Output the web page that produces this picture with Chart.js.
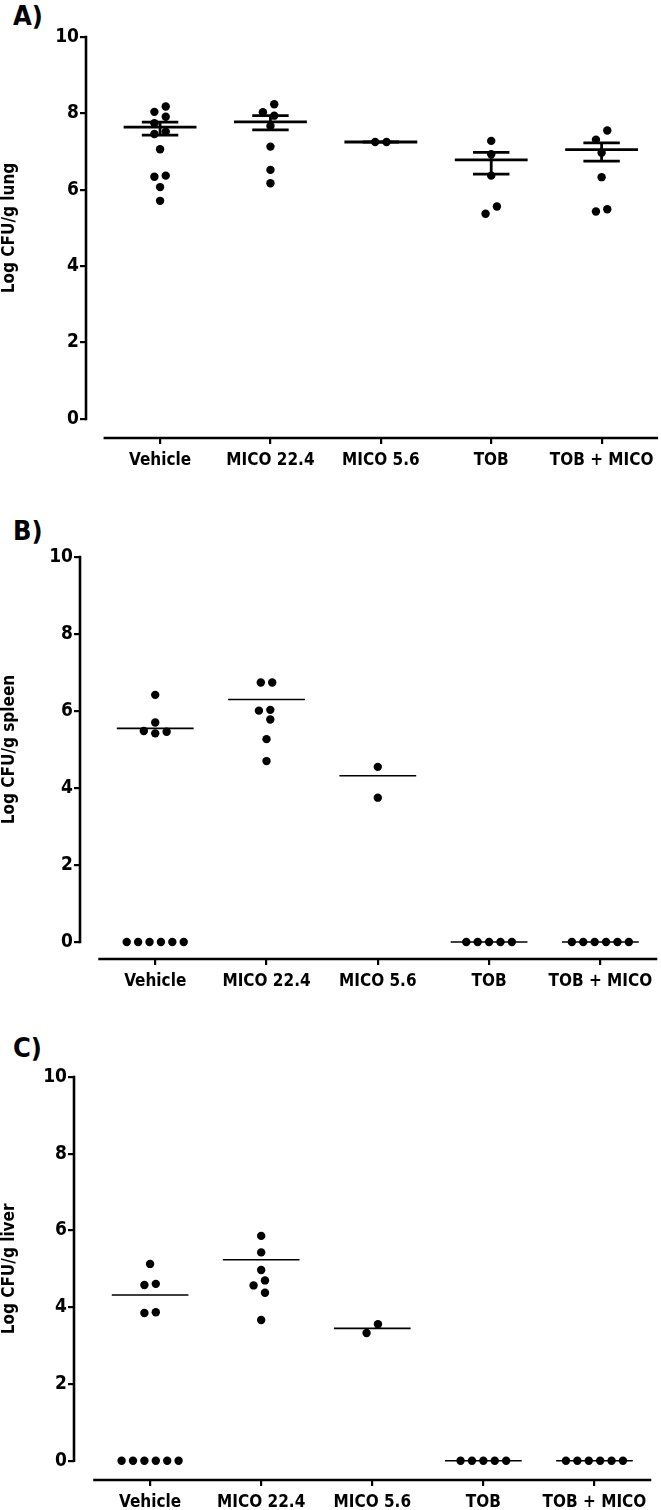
<!DOCTYPE html>
<html>
<head>
<meta charset="utf-8">
<script src="https://cdn.jsdelivr.net/npm/chart.js@4.4.1/dist/chart.umd.min.js"></script>
<style>
  body { margin: 0; background: #fff; }
  #wrap { position: relative; width: 661px; height: 1510px; overflow: hidden; }
  #wrap canvas { position: absolute; left: 0; }
  .letter {
    position: absolute; left: 13px; margin: 0;
    font: bold 27px "DejaVu Sans Condensed", "DejaVu Sans", sans-serif;
    line-height: 27px; color: #000;
  }
</style>
</head>
<body>
<div id="wrap">
  <div class="letter" style="top:2px">A)</div>
  <canvas id="lungChart" width="661" height="500" style="top:0px"></canvas>
  <div class="letter" style="top:517px">B)</div>
  <canvas id="spleenChart" width="661" height="505" style="top:500px"></canvas>
  <div class="letter" style="top:1034px">C)</div>
  <canvas id="liverChart" width="661" height="505" style="top:1005px"></canvas>
</div>
<script>
// categories and axis ticks
const categories = ["Vehicle", "MICO 22.4", "MICO 5.6", "TOB", "TOB + MICO"];
const yTicks = [0, 2, 4, 6, 8, 10];

// A) lung, log CFU/g
const lungVehicle = [8.18, 8.04, 7.91, 7.74, 7.52, 7.46, 7.06, 6.37, 6.34, 6.07, 5.71];
const lungMico224 = [8.24, 8.03, 7.94, 7.67, 7.13, 6.52, 6.17];
const lungMico56 = [7.25, 7.25];
const lungTob = [7.28, 6.93, 6.37, 5.56, 5.37];
const lungTobMico = [7.55, 7.31, 6.97, 6.33, 5.49, 5.43];
const lungMean = [7.64, 7.78, 7.25, 6.78, 7.05];
const lungSemLow = [7.43, 7.57, 7.25, 6.41, 6.75];
const lungSemHigh = [7.77, 7.94, 7.25, 6.98, 7.23];

// B) spleen
const spleenVehicle = [6.42, 5.70, 5.48, 5.46, 5.42, 0, 0, 0, 0, 0, 0];
const spleenMico224 = [6.74, 6.74, 6.03, 6.01, 5.78, 5.27, 4.70];
const spleenMico56 = [4.55, 3.75];
const spleenTob = [0, 0, 0, 0, 0];
const spleenTobMico = [0, 0, 0, 0, 0, 0];
const spleenMean = [5.55, 6.30, 4.32, 0, 0];

// C) liver
const liverVehicle = [5.13, 4.61, 4.58, 3.87, 3.85, 0, 0, 0, 0, 0, 0];
const liverMico224 = [5.86, 5.43, 4.97, 4.70, 4.57, 4.38, 3.67];
const liverMico56 = [3.56, 3.33];
const liverTob = [0, 0, 0, 0, 0];
const liverTobMico = [0, 0, 0, 0, 0, 0];
const liverMean = [4.32, 5.24, 3.45, 0, 0];

const FONT = '"DejaVu Sans Condensed", "DejaVu Sans", sans-serif';

// spread points of a group sideways so the dots do not overlap (like a dot plot)
function swarm(values, pxX, pxY, step, minDist) {
  const order = values.map((v, i) => i).sort((a, b) => values[b] - values[a]);
  const placed = [];
  const off = new Array(values.length).fill(0);
  order.forEach(function (i) {
    const py = -values[i] * pxY;
    for (let k = 0; k < 40; k++) {
      const m = Math.ceil(k / 2) * (k % 2 ? -1 : 1);
      const dx = m * step;
      const free = placed.every(p => Math.hypot(p.dx - dx, p.py - py) >= minDist);
      if (free) {
        placed.push({ i: i, dx: dx, py: py });
        break;
      }
    }
  });
  placed.sort((a, b) => a.py - b.py);
  let cluster = [];
  const flush = function () {
    if (!cluster.length) return;
    const mean = cluster.reduce((s, p) => s + p.dx, 0) / cluster.length;
    cluster.forEach(p => { off[p.i] = p.dx - mean; });
    cluster = [];
  };
  placed.forEach(function (p, j) {
    if (j > 0 && p.py - placed[j - 1].py >= minDist) flush();
    cluster.push(p);
  });
  flush();
  return off.map(d => d / pxX);
}

// draws the detached axis lines and the rotated y title
const axisPlugin = {
  id: "axisLines",
  afterDraw(chart, args, opts) {
    const ctx = chart.ctx;
    const xs = chart.scales.x, ys = chart.scales.y;
    const a = chart.chartArea;
    ctx.save();
    ctx.strokeStyle = "#000";
    ctx.lineWidth = 2.6;
    ctx.lineCap = "square";
    ctx.beginPath();
    ctx.moveTo(a.left, ys.getPixelForValue(10));
    ctx.lineTo(a.left, ys.getPixelForValue(0));
    ctx.moveTo(xs.getPixelForValue(-0.5), a.bottom);
    ctx.lineTo(xs.getPixelForValue(4.5), a.bottom);
    ctx.stroke();
    const cy = (ys.getPixelForValue(0) + ys.getPixelForValue(10)) / 2;
    ctx.translate(10, cy);
    ctx.rotate(-Math.PI / 2);
    ctx.fillStyle = "#000";
    ctx.font = "bold 17px " + FONT;
    ctx.textAlign = "center";
    ctx.textBaseline = "middle";
    ctx.fillText(opts.title, 0, 0);
    ctx.restore();
  }
};

function makePanel(id, geo, groups, means, semLow, semHigh, yTitle, meanWidth) {
  const pxX = (geo.right - geo.left) / (4.5 - geo.xMin);
  const pxY = (geo.bottom - geo.top) / (10 - geo.yMin);

  const dots = [];
  groups.forEach(function (vals, gi) {
    const jit = swarm(vals, pxX, pxY, 11.4, 9.5);
    vals.forEach(function (v, k) {
      dots.push({ x: gi + jit[k], y: v });
    });
  });

  const half = meanWidth > 2 ? 0.33 : 0.345;
  const meanSeg = [];
  means.forEach(function (m, gi) {
    meanSeg.push({ x: gi - half, y: m }, { x: gi + half, y: m }, { x: gi, y: null });
  });

  const datasets = [];
  if (semLow) {
    const capSeg = [], barSeg = [];
    semLow.forEach(function (lo, gi) {
      const hi = semHigh[gi];
      barSeg.push({ x: gi, y: lo }, { x: gi, y: hi }, { x: gi, y: null });
      capSeg.push({ x: gi - 0.165, y: lo }, { x: gi + 0.165, y: lo }, { x: gi, y: null });
      capSeg.push({ x: gi - 0.165, y: hi }, { x: gi + 0.165, y: hi }, { x: gi, y: null });
    });
    datasets.push({ type: "line", data: barSeg, borderColor: "#000", borderWidth: meanWidth, pointRadius: 0, spanGaps: false });
    datasets.push({ type: "line", data: capSeg, borderColor: "#000", borderWidth: meanWidth, pointRadius: 0, spanGaps: false });
  }
  datasets.push({ type: "line", data: meanSeg, borderColor: "#000", borderWidth: meanWidth, pointRadius: 0, spanGaps: false });
  datasets.push({
    type: "scatter", data: dots, pointRadius: 4.2, pointBackgroundColor: "#000",
    pointBorderWidth: 0, borderColor: "#000"
  });

  const ctx = document.getElementById(id).getContext("2d");
  return new Chart(ctx, {
    type: "scatter",
    data: { datasets: datasets },
    plugins: [axisPlugin],
    options: {
      responsive: false,
      animation: false,
      events: [],
      layout: { padding: { left: 0, top: geo.top, right: 661 - geo.right, bottom: 0 } },
      plugins: {
        legend: { display: false },
        tooltip: { enabled: false },
        axisLines: { title: yTitle }
      },
      scales: {
        x: {
          type: "linear",
          min: geo.xMin,
          max: 4.5,
          afterFit: function (s) { s.height = geo.height - geo.bottom; },
          afterBuildTicks: function (s) { s.ticks = categories.map((c, i) => ({ value: i })); },
          ticks: {
            callback: v => categories[v],
            autoSkip: false,
            maxRotation: 0,
            padding: 6,
            color: "#000",
            font: { family: FONT, size: 17, weight: "bold" }
          },
          grid: { drawOnChartArea: false, drawTicks: true, tickLength: 6, color: "#000", lineWidth: 2.2 },
          border: { display: false }
        },
        y: {
          min: geo.yMin,
          max: 10,
          afterFit: function (s) { s.width = geo.left; },
          afterBuildTicks: function (s) { s.ticks = yTicks.map(v => ({ value: v })); },
          ticks: {
            padding: 1,
            color: "#000",
            font: { family: FONT, size: 19, weight: "bold" }
          },
          grid: { drawOnChartArea: false, drawTicks: true, tickLength: 6, color: "#000", lineWidth: 2.2 },
          border: { display: false }
        }
      }
    }
  });
}

makePanel("lungChart",
  { height: 500, left: 86, right: 660, top: 37, bottom: 438, xMin: -0.671, yMin: -0.5 },
  [lungVehicle, lungMico224, lungMico56, lungTob, lungTobMico],
  lungMean, lungSemLow, lungSemHigh, "Log CFU/g lung", 2.8);

makePanel("spleenChart",
  { height: 505, left: 80, right: 656, top: 57, bottom: 459, xMin: -0.676, yMin: -0.44 },
  [spleenVehicle, spleenMico224, spleenMico56, spleenTob, spleenTobMico],
  spleenMean, null, null, "Log CFU/g spleen", 1.6);

makePanel("liverChart",
  { height: 505, left: 74, right: 650, top: 72, bottom: 475, xMin: -0.685, yMin: -0.5 },
  [liverVehicle, liverMico224, liverMico56, liverTob, liverTobMico],
  liverMean, null, null, "Log CFU/g liver", 1.6);
</script>
</body>
</html>
